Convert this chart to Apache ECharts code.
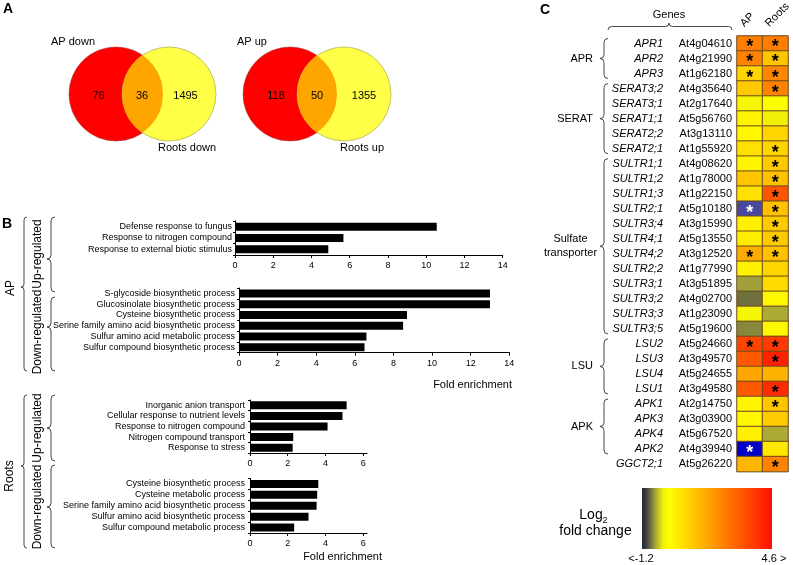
<!DOCTYPE html>
<html>
<head>
<meta charset="utf-8">
<script src="https://cdn.jsdelivr.net/npm/echarts@6/dist/echarts.min.js"></script>
<style>
html,body{margin:0;padding:0;background:#fff;}
#chart{width:793px;height:565px;}
</style>
</head>
<body>
<div id="chart"></div>
<script>
// ---------- DATA ----------
const vennDownCounts = [76, 36, 1495];
const vennUpCounts = [118, 50, 1355];

const apUpTerms = ['Defense response to fungus', 'Response to nitrogen compound', 'Response to external biotic stimulus'];
const apUpValues = [10.55, 5.67, 4.88];
const apDownTerms = ['S-glycoside biosynthetic process', 'Glucosinolate biosynthetic process', 'Cysteine biosynthetic process', 'Serine family amino acid biosynthetic process', 'Sulfur amino acid metabolic process', 'Sulfur compound biosynthetic process'];
const apDownValues = [13.0, 13.0, 8.7, 8.5, 6.6, 6.5];
const rootsUpTerms = ['Inorganic anion transport', 'Cellular response to nutrient levels', 'Response to nitrogen compound', 'Nitrogen compound transport', 'Response to stress'];
const rootsUpValues = [5.12, 4.9, 4.11, 2.29, 2.26];
const rootsDownTerms = ['Cysteine biosynthetic process', 'Cysteine metabolic process', 'Serine family amino acid biosynthetic process', 'Sulfur amino acid biosynthetic process', 'Sulfur compound metabolic process'];
const rootsDownValues = [3.62, 3.56, 3.53, 3.1, 2.34];

const heatColumns = ['AP', 'Roots'];
const genes = ['APR1','APR2','APR3','SERAT3;2','SERAT3;1','SERAT1;1','SERAT2;2','SERAT2;1','SULTR1;1','SULTR1;2','SULTR1;3','SULTR2;1','SULTR3;4','SULTR4;1','SULTR4;2','SULTR2;2','SULTR3;1','SULTR3;2','SULTR3;3','SULTR3;5','LSU2','LSU3','LSU4','LSU1','APK1','APK3','APK4','APK2','GGCT2;1'];
const loci = ['At4g04610','At4g21990','At1g62180','At4g35640','At2g17640','At5g56760','At3g13110','At1g55920','At4g08620','At1g78000','At1g22150','At5g10180','At3g15990','At5g13550','At3g12520','At1g77990','At3g51895','At4g02700','At1g23090','At5g19600','At5g24660','At3g49570','At5g24655','At3g49580','At2g14750','At3g03900','At5g67520','At4g39940','At5g26220'];
const apLog2 =    [2.5, 2.4, 0.8, 1.0, -0.12, 0.2, 0.15, 0.6, 0.2, 1.1, 0.6, -1.8, 0.3, 0.35, 1.6, 0.25, -0.6, -0.8, -0.15, -0.7, 3.6, 3.2, 1.7, 3.2, 0.2, 0.15, 0.3, -2.6, 1.4];
const rootsLog2 = [2.5, 1.1, 2.3, 2.4, -0.05, -0.2, 0.8, 0.8, 1.0, 1.2, 3.3, 1.2, 1.0, 1.0, 1.2, 0.8, 0.7, 0.15, -0.55, 0.15, 3.8, 4.3, 1.5, 4.1, 1.1, 1.0, -0.55, 0.45, 2.4];
const apSig =     [1,1,1,0,0,0,0,0,0,0,0,1,0,0,1,0,0,0,0,0,1,0,0,0,0,0,0,1,0];
const rootsSig =  [1,1,1,1,0,0,0,1,1,1,1,1,1,1,1,0,0,0,0,0,1,1,0,1,1,0,0,0,1];
const geneGroups = [['APR', 0, 2], ['SERAT', 3, 7], ['Sulfate\ntransporter', 8, 19], ['LSU', 20, 23], ['APK', 24, 27]];
const scaleMin = -1.2, scaleMax = 4.6;

// ---------- STYLE / LAYOUT ----------
const FF = '"Liberation Sans", Arial, sans-serif';

// generic command-list shape for braces and the Venn lens
echarts.graphic.registerShape('cmdPath', echarts.graphic.extendShape({
  shape: { cmds: [] },
  buildPath: function (ctx, shape) {
    shape.cmds.forEach(c => {
      if (c[0] === 'M') ctx.moveTo(c[1], c[2]);
      else if (c[0] === 'L') ctx.lineTo(c[1], c[2]);
      else if (c[0] === 'Q') ctx.quadraticCurveTo(c[1], c[2], c[3], c[4]);
      else if (c[0] === 'A') ctx.arc(c[1], c[2], c[3], c[4], c[5], false);
      else if (c[0] === 'Z') ctx.closePath();
    });
  }
}));

const chart = echarts.init(document.getElementById('chart'), null, {renderer: 'canvas'});

// colour ramp for the heatmap (continuous visualMap)
const anchors = [[-3.0,[0,0,200]],[-2.2,[0,0,200]],[-2.0,[72,72,160]],[-1.3,[72,72,160]],[-1.2,[34,40,58]],[-1.0,[64,64,64]],[-0.6,[160,160,60]],[-0.25,[238,238,10]],[0,[255,255,0]],[4.6,[255,16,0]]];
function colorAt(v){
  for (let i=0;i<anchors.length-1;i++){
    const a=anchors[i], b=anchors[i+1];
    if (v>=a[0]-1e-9 && v<=b[0]+1e-9){
      const t=(v-a[0])/(b[0]-a[0]||1);
      const c=a[1].map((x,k)=>Math.round(x+(b[1][k]-x)*t));
      return 'rgb('+c.join(',')+')';
    }
  }
  return 'rgb('+anchors[anchors.length-1][1].join(',')+')';
}
const rampColors=[]; for (let v=-3.0; v<=4.6001; v+=0.1) rampColors.push(colorAt(v));

// braces
function vbrace(xt, xe, y1, y2, ym){
  const xm=(xt+xe)/2, h=Math.abs(xe-xt)/2;
  return [['M',xe,y1],['Q',xm,y1,xm,y1+h],['L',xm,ym-h],['Q',xm,ym,xt,ym],['Q',xm,ym,xm,ym+h],['L',xm,y2-h],['Q',xm,y2,xe,y2]];
}
function hbrace(x1, x2, yt, yb, xmid){
  const ym=(yt+yb)/2, h=Math.abs(yb-yt)/2;
  return [['M',x1,yb],['Q',x1,ym,x1+h,ym],['L',xmid-h,ym],['Q',xmid,ym,xmid,yt],['Q',xmid,ym,xmid+h,ym],['L',x2-h,ym],['Q',x2,ym,x2,yb]];
}
function pathEl(cmds, lw){ return {type:'cmdPath', shape:{cmds}, style:{stroke:'#333', fill:null, lineWidth:lw||0.9}, silent:true}; }
function txt(x,y,s,o){ o=o||{}; return {type:'text', x, y, rotation:o.rot||0, silent:true, style:{text:s, font:(o.italic?'italic ':'')+(o.bold?'bold ':'')+(o.size||11)+'px '+FF, fill:o.color||'#000', textAlign:o.align||'center', textVerticalAlign:o.va||'middle'}}; }

// Venn
function venn(cx1, cx2, cy, r, counts, lab1, lab2, lab1pos, lab2pos, numX){
  const d=cx2-cx1, th=Math.acos((d/2)/r);
  const lens=[['M',cx1+r*Math.cos(-th),cy+r*Math.sin(-th)],['A',cx1,cy,r,-th,th],['A',cx2,cy,r,Math.PI-th,Math.PI+th],['Z']];
  return [
    {type:'circle', shape:{cx:cx1, cy, r}, style:{fill:'#ff0000', stroke:'#b04040', lineWidth:0.6}, silent:true},
    {type:'circle', shape:{cx:cx2, cy, r}, style:{fill:'#ffff48', stroke:'#9a9a50', lineWidth:0.6}, silent:true},
    {type:'cmdPath', shape:{cmds:lens}, style:{fill:'#ffa500', stroke:null}, silent:true},
    txt(numX[0], cy+2, String(counts[0])),
    txt(numX[1], cy+2, String(counts[1])),
    txt(numX[2], cy+2, String(counts[2])),
    txt(lab1pos[0], lab1pos[1], lab1, {align:'left'}),
    txt(lab2pos[0], lab2pos[1], lab2, {align:'left'})
  ];
}

const graphics = [];
graphics.push(txt(3, 9, 'A', {bold:true, size:14, align:'left'}));
graphics.push(txt(2, 224, 'B', {bold:true, size:14, align:'left'}));
graphics.push(txt(540, 10, 'C', {bold:true, size:14, align:'left'}));

graphics.push(...venn(116, 169, 94, 47, vennDownCounts, 'AP down', 'Roots down', [51, 42], [158, 148], [98.5, 142, 185.5]));
graphics.push(...venn(290, 344, 94, 47, vennUpCounts, 'AP up', 'Roots up', [237, 42], [340, 148], [276, 317, 364]));

// B braces and side labels
graphics.push(pathEl(vbrace(21, 27, 217, 371, 287)));
graphics.push(pathEl(vbrace(47, 55, 217, 292, 259)));
graphics.push(pathEl(vbrace(47, 55, 297, 371, 327)));
graphics.push(pathEl(vbrace(21, 27, 395, 548, 466)));
graphics.push(pathEl(vbrace(47, 55, 395, 461, 428)));
graphics.push(pathEl(vbrace(47, 55, 465, 548, 507)));
graphics.push(txt(11, 288, 'AP', {rot:Math.PI/2, size:12}));
graphics.push(txt(38, 254, 'Up-regulated', {rot:Math.PI/2, size:12}));
graphics.push(txt(38, 332, 'Down-regulated', {rot:Math.PI/2, size:12}));
graphics.push(txt(10, 476, 'Roots', {rot:Math.PI/2, size:12}));
graphics.push(txt(38, 428, 'Up-regulated', {rot:Math.PI/2, size:12}));
graphics.push(txt(38, 507, 'Down-regulated', {rot:Math.PI/2, size:12}));
graphics.push(txt(512, 385, 'Fold enrichment', {align:'right'}));
graphics.push(txt(382, 557, 'Fold enrichment', {align:'right'}));

// C header and braces
const hTop = 36, rowH = 15.02;
graphics.push(txt(669, 15, 'Genes'));
graphics.push(pathEl(hbrace(608, 732, 23, 30, 669)));
graphics.push(txt(746, 29, 'AP', {rot:Math.PI/4, align:'left', va:'bottom'}));
graphics.push(txt(771, 29, 'Roots', {rot:Math.PI/4, align:'left', va:'bottom'}));
geneGroups.forEach(g => {
  const y1 = hTop + g[1]*rowH + 2.5, y2 = hTop + (g[2]+1)*rowH - 2.5;
  const ym = (hTop + g[1]*rowH + hTop + (g[2]+1)*rowH)/2;
  graphics.push(pathEl(vbrace(600, 608, y1, y2, ym)));
  const lines = g[0].split('\n');
  if (lines.length === 1) graphics.push(txt(593, ym, g[0], {align:'right'}));
  else {
    graphics.push(txt(570.5, ym-7, lines[0]));
    graphics.push(txt(570.5, ym+7, lines[1]));
  }
});

// colour bar legend
graphics.push({type:'rect', shape:{x:642, y:488, width:130, height:61}, silent:true,
  style:{fill:{type:'linear', x:0, y:0, x2:1, y2:0, colorStops:[
    {offset:0, color:'#22283a'},{offset:0.035, color:'#404040'},{offset:0.1, color:'#a0a03c'},{offset:0.16, color:'#eeee0a'},{offset:0.207, color:'#ffff00'},{offset:1, color:'#ff1000'}]}, stroke:null}});
graphics.push(txt(591, 515, 'Log', {size:14}));
graphics.push(txt(605, 521, '2', {size:9}));
graphics.push(txt(595.5, 531, 'fold change', {size:14}));
graphics.push(txt(641, 559, '<' + scaleMin, {size:11}));
graphics.push(txt(774, 559, scaleMax + ' >', {size:11}));

// bar axes builder
function barAxes(gi, terms, max, margin){
  return {
    x: {gridIndex:gi, type:'value', min:0, max, interval:2,
        axisLine:{show:true, lineStyle:{color:'#000', width:1}},
        axisTick:{show:true, length:3, lineStyle:{color:'#000'}},
        splitLine:{show:false},
        axisLabel:{fontSize:9, color:'#000', margin:6, fontFamily:FF, showMaxLabel: max % 2 === 0}},
    y: {gridIndex:gi, type:'category', data:terms, inverse:true,
        axisLine:{show:true, lineStyle:{color:'#000', width:1}},
        axisTick:{show:true, length:2, interval:0, lineStyle:{color:'#000'}},
        axisLabel:{fontSize:9, color:'#000', margin, interval:0, fontFamily:FF}}
  };
}
const a0 = barAxes(0, apUpTerms, 14, 3);
const a1 = barAxes(1, apDownTerms, 14, 4);
const a2 = barAxes(2, rootsUpTerms, 6.2, 5);
const a3 = barAxes(3, rootsDownTerms, 6.2, 5);

const heatData = [];
genes.forEach((g, i) => {
  heatData.push({value:[0, i, apLog2[i]], label:{show:!!apSig[i], color: apLog2[i] < scaleMin ? '#fff' : '#000'}});
  heatData.push({value:[1, i, rootsLog2[i]], label:{show:!!rootsSig[i], color: rootsLog2[i] < scaleMin ? '#fff' : '#000'}});
});

function barSeries(gi, vals){
  return {type:'bar', xAxisIndex:gi, yAxisIndex:gi, data:vals, barWidth:8, itemStyle:{color:'#000'}, silent:true, animation:false};
}

const option = {
  animation:false,
  textStyle:{fontFamily:FF},
  grid:[
    {left:235, top:221, width:267.7, height:34},
    {left:239, top:288, width:270.3, height:64.7},
    {left:250, top:400, width:117, height:53},
    {left:250, top:478.5, width:117, height:54.5},
    {left:737, top:hTop, width:51, height:rowH*genes.length}
  ],
  xAxis:[a0.x, a1.x, a2.x, a3.x,
    {gridIndex:4, type:'category', data:heatColumns, show:false}],
  yAxis:[a0.y, a1.y, a2.y, a3.y,
    {gridIndex:4, type:'category', data:loci, inverse:true, position:'left',
     axisLine:{show:false}, axisTick:{show:false},
     axisLabel:{margin:5, interval:0, color:'#000', fontSize:11, fontFamily:FF}},
    {gridIndex:4, type:'category', data:genes, inverse:true, position:'left',
     axisLine:{show:false}, axisTick:{show:false},
     axisLabel:{margin:74, interval:0, color:'#000', fontSize:11, fontStyle:'italic', fontFamily:FF}}],
  visualMap:[{type:'continuous', show:false, seriesIndex:4, dimension:2, min:-3.0, max:4.6, inRange:{color:rampColors}}],
  series:[
    barSeries(0, apUpValues),
    barSeries(1, apDownValues),
    barSeries(2, rootsUpValues),
    barSeries(3, rootsDownValues),
    {type:'heatmap', xAxisIndex:4, yAxisIndex:4, data:heatData, silent:true,
     itemStyle:{borderColor:'#6a4a20', borderWidth:1},
     label:{show:false, formatter:'*', fontSize:18, fontWeight:'bold', offset:[0,4], fontFamily:FF},
     emphasis:{disabled:true}}
  ],
  graphic:graphics
};
chart.setOption(option);
</script>
</body>
</html>
